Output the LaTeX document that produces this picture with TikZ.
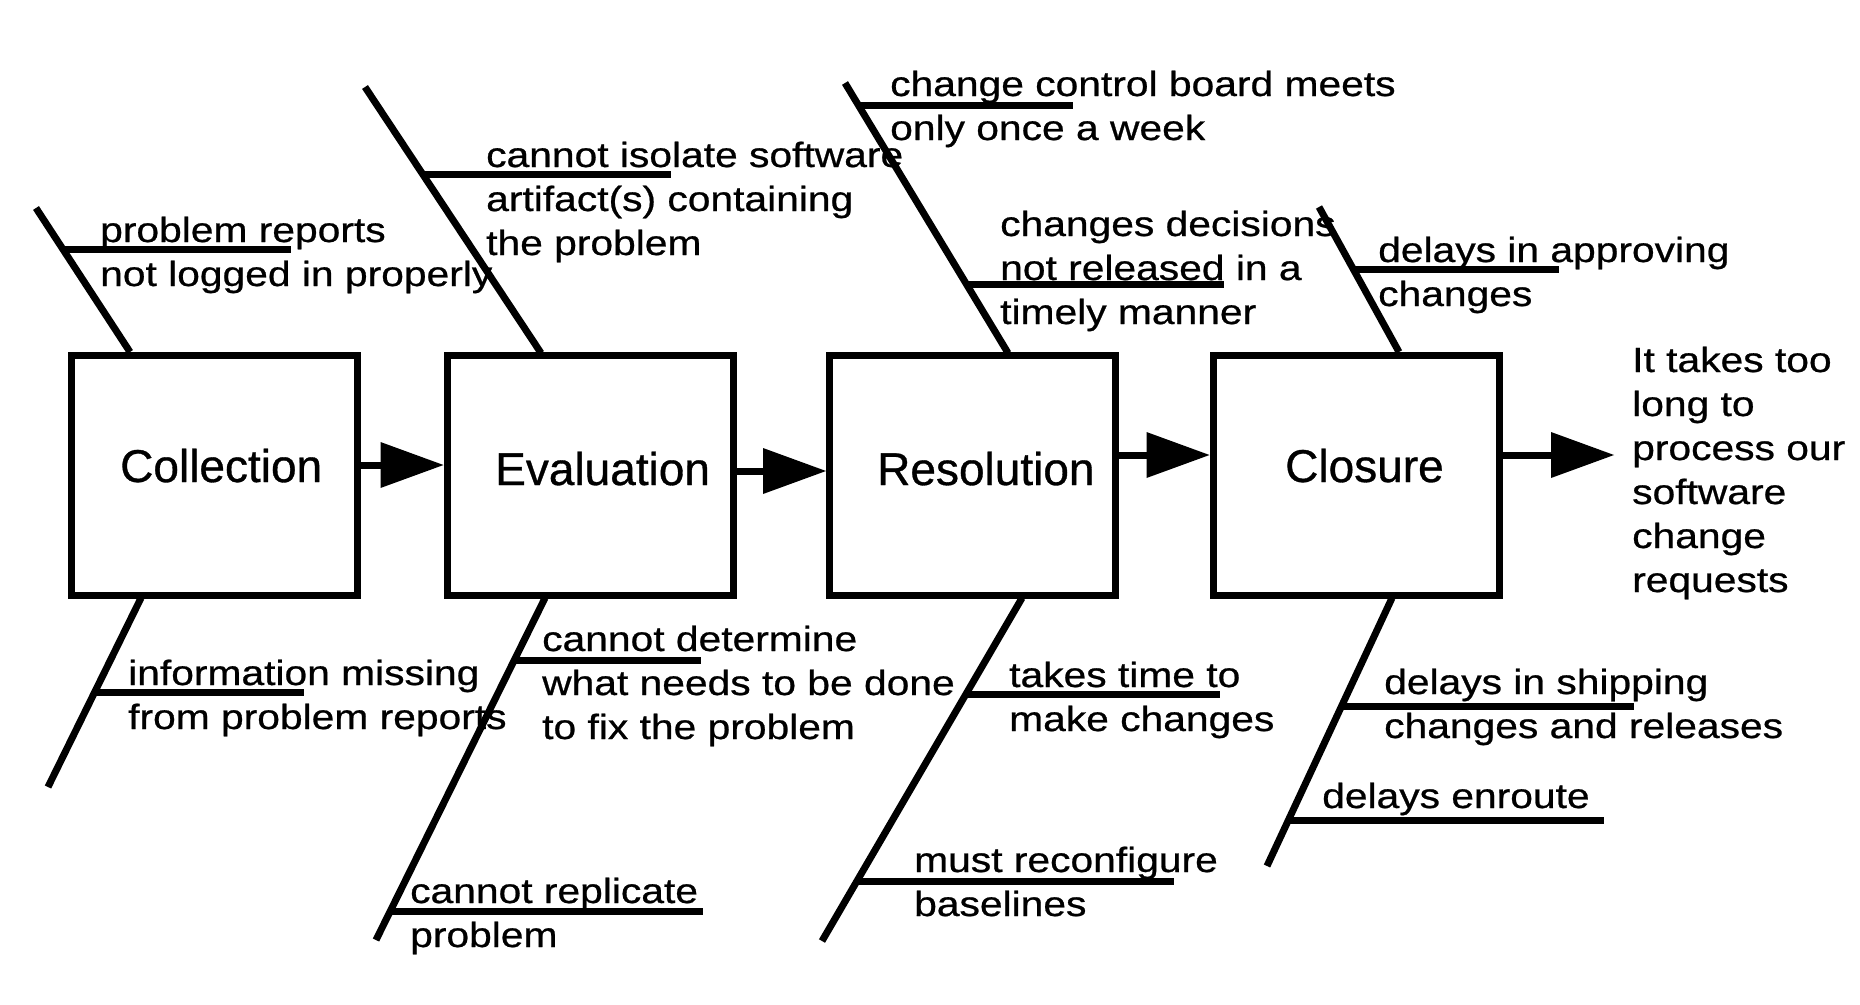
\documentclass[tikz,border=0pt]{standalone}
\usepackage{fontspec}
\setmainfont{Liberation Sans}
\newfontfamily\lblfont[FakeStretch=1.165,FakeBold=0.7]{Liberation Sans}
\newfontfamily\boxfont[FakeBold=0.7]{Liberation Sans}
\usetikzlibrary{arrows.meta}
\newcommand\mytab[1]{\begin{tabular}[t]{@{}l@{}}#1\end{tabular}}
\begin{document}
\begin{tikzpicture}[x=1pt,y=-1pt,
  box/.style={draw, rectangle, minimum width=286pt, minimum height=240pt, inner sep=0pt, line width=7pt},
  ttl/.style={anchor=base west, inner sep=0pt, font=\boxfont\fontsize{46}{54}\selectfont},
  lbl/.style={anchor=base west, inner sep=0pt, font=\lblfont\fontsize{35}{44}\selectfont},
  bone/.style={line width=7pt},
  arr/.style={line width=7pt, -{Triangle[length=63pt,width=46pt,line width=0pt]}}]
\fill[white] (0,0) rectangle (1860,1004);
\useasboundingbox (0,0) rectangle (1860,1004);

% process boxes
\node[box] (coll) at (214.5,475) {};
\node[box] (eval) at (590,475) {};
\node[box] (reso) at (972.5,475) {};
\node[box] (clos) at (1356,475) {};
\node[ttl] (tcoll) at (120,482) {Collection};
\node[ttl] (teval) at (495,485) {Evaluation};
\node[ttl] (treso) at (877,485) {Resolution};
\node[ttl] (tclos) at (1285,482) {Closure};

% arrows
\coordinate (a1) at (0,465);
\coordinate (a2) at (0,471);
\coordinate (a3) at (0,455);
\coordinate (a4) at (1614,455);
\draw[arr] (coll.east |- a1) -- (eval.west |- a1);
\draw[arr] (eval.east |- a2) -- (reso.west |- a2);
\draw[arr] (reso.east |- a3) -- (clos.west |- a3);
\draw[arr] (clos.east |- a4) -- (a4);
\node[lbl] (eff) at (1632,372) {\mytab{It takes too\\long to\\process our\\software\\change\\requests}};

% top bones
\draw[bone] (130,352) -- (36,208);
\draw[bone] (63,249) -- (291,249);
\node[lbl] (c1) at (100,242) {\mytab{problem reports\\not logged in properly}};

\draw[bone] (541,353) -- (365,87);
\draw[bone] (424,174) -- (671,174);
\node[lbl] (c2) at (486,167) {\mytab{cannot isolate software\\artifact(s) containing\\the problem}};

\draw[bone] (1008,353) -- (845,83);
\draw[bone] (860,105) -- (1073,105);
\node[lbl] (c3) at (890,96) {\mytab{change control board meets\\only once a week}};
\draw[bone] (968,284) -- (1224,284);
\node[lbl] (c4) at (1000,236) {\mytab{changes decisions\\not released in a\\timely manner}};

\draw[bone] (1399,352) -- (1319,207);
\draw[bone] (1355,269) -- (1559,269);
\node[lbl] (c5) at (1378,262) {\mytab{delays in approving\\changes}};

% bottom bones
\draw[bone] (141,598) -- (48,787);
\draw[bone] (96,692) -- (304,692);
\node[lbl] (c6) at (128,685) {\mytab{information missing\\from problem reports}};

\draw[bone] (545,598) -- (376,940);
\draw[bone] (515,660) -- (701,660);
\node[lbl] (c7) at (542,651) {\mytab{cannot determine\\what needs to be done\\to fix the problem}};
\draw[bone] (390,911) -- (703,911);
\node[lbl] (c8) at (410,903) {\mytab{cannot replicate\\problem}};

\draw[bone] (1022,598) -- (822,941);
\draw[bone] (966,694) -- (1220,694);
\node[lbl] (c9) at (1009,687) {\mytab{takes time to\\make changes}};
\draw[bone] (858,881) -- (1174,881);
\node[lbl] (c10) at (914,872) {\mytab{must reconfigure\\baselines}};

\draw[bone] (1392,598) -- (1267,866);
\draw[bone] (1341,706) -- (1634,706);
\node[lbl] (c11) at (1384,694) {\mytab{delays in shipping\\changes and releases}};
\draw[bone] (1289,820) -- (1604,820);
\node[lbl] (c12) at (1322,808) {\mytab{delays enroute}};
\end{tikzpicture}
\end{document}
